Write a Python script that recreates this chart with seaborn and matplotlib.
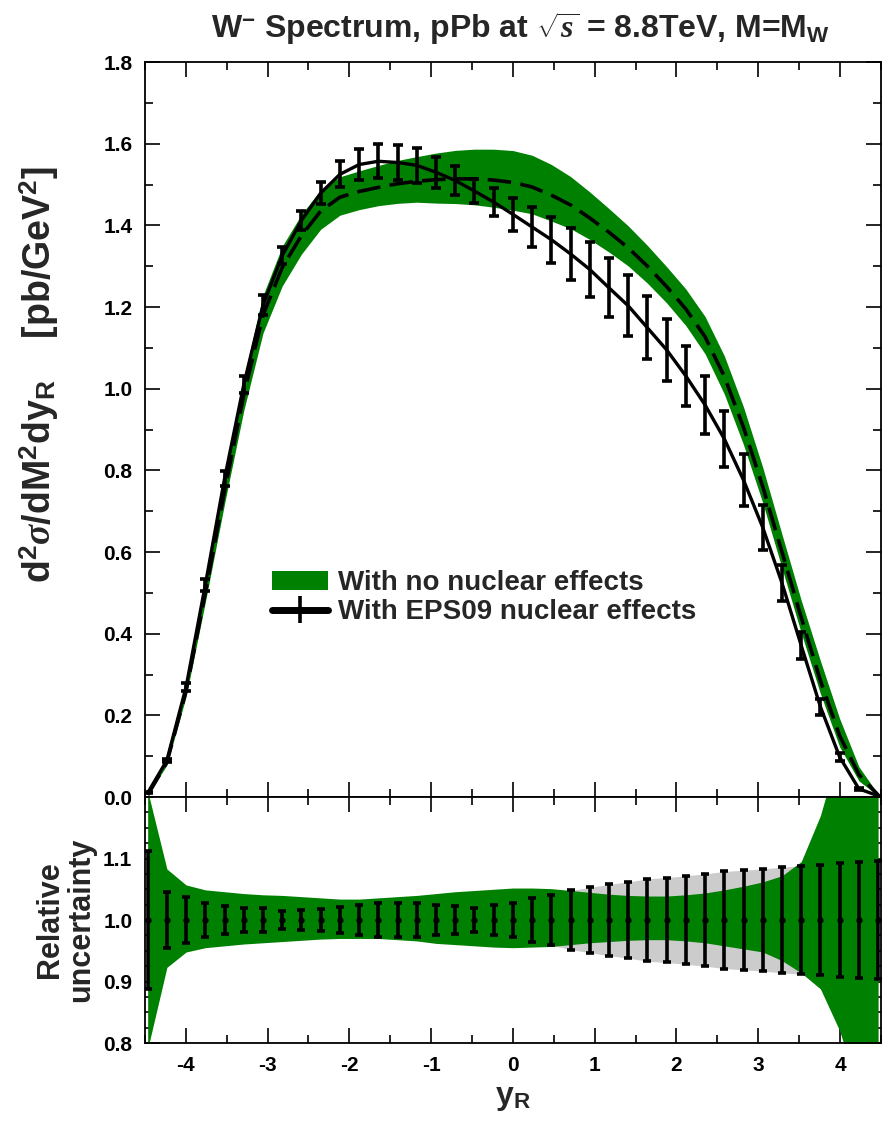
import numpy as np
import matplotlib
matplotlib.use("Agg")
import matplotlib.pyplot as plt
import seaborn as sns
from matplotlib.patches import Patch
from matplotlib.ticker import MultipleLocator

# ---------------- data ----------------
y_r = [-4.465, -4.230, -3.995, -3.760, -3.525, -3.290, -3.055, -2.820, -2.585,
       -2.350, -2.115, -1.880, -1.645, -1.410, -1.175, -0.940, -0.705, -0.470,
       -0.235, 0.000, 0.235, 0.470, 0.705, 0.940, 1.175, 1.410, 1.645, 1.880,
       2.115, 2.350, 2.585, 2.820, 3.055, 3.290, 3.525, 3.760, 3.995, 4.230, 4.465]

# EPS09 (with nuclear effects) central values  [pb/GeV^2]
eps09 = [0.010, 0.090, 0.270, 0.520, 0.780, 1.010, 1.205, 1.326, 1.412, 1.479,
         1.525, 1.549, 1.557, 1.554, 1.547, 1.530, 1.510, 1.484, 1.457, 1.427,
         1.396, 1.365, 1.330, 1.292, 1.247, 1.203, 1.149, 1.095, 1.031, 0.960,
         0.877, 0.776, 0.660, 0.524, 0.371, 0.221, 0.098, 0.020, 0.003]

# EPS09 relative uncertainty (half width)
eps09_rel = [0.112, 0.045, 0.037, 0.028, 0.023, 0.020, 0.020, 0.015, 0.017, 0.018,
             0.021, 0.024, 0.027, 0.028, 0.028, 0.025, 0.023, 0.020, 0.024, 0.028,
             0.035, 0.041, 0.048, 0.053, 0.058, 0.062, 0.067, 0.069, 0.072, 0.075,
             0.079, 0.081, 0.083, 0.086, 0.088, 0.090, 0.092, 0.095, 0.096]

# no nuclear effects: central values
nonuc = [0.005, 0.085, 0.260, 0.500, 0.750, 0.985, 1.180, 1.297, 1.375, 1.435,
         1.469, 1.483, 1.493, 1.502, 1.508, 1.512, 1.514, 1.514, 1.511, 1.505,
         1.494, 1.474, 1.450, 1.418, 1.383, 1.345, 1.300, 1.250, 1.195, 1.127,
         1.030, 0.905, 0.760, 0.600, 0.440, 0.285, 0.150, 0.055, 0.005]

# no nuclear effects: relative band (upper / lower)
nonuc_rel_hi = [1.210, 1.083, 1.057, 1.049, 1.046, 1.043, 1.041, 1.040, 1.038, 1.036,
                1.034, 1.034, 1.036, 1.038, 1.040, 1.043, 1.046, 1.048, 1.050, 1.052,
                1.052, 1.051, 1.048, 1.045, 1.042, 1.040, 1.039, 1.039, 1.041, 1.044,
                1.049, 1.055, 1.062, 1.072, 1.095, 1.170, 1.280, 1.350, 1.400]
nonuc_rel_lo = [0.790, 0.923, 0.948, 0.955, 0.958, 0.961, 0.963, 0.965, 0.967, 0.969,
                0.970, 0.970, 0.970, 0.968, 0.966, 0.962, 0.960, 0.958, 0.956, 0.955,
                0.956, 0.957, 0.960, 0.963, 0.965, 0.967, 0.968, 0.968, 0.966, 0.963,
                0.958, 0.953, 0.948, 0.934, 0.914, 0.888, 0.820, 0.720, 0.600]

x_ticks = [-4, -3, -2, -1, 0, 1, 2, 3, 4]
top_yticks = [0.0, 0.2, 0.4, 0.6, 0.8, 1.0, 1.2, 1.4, 1.6, 1.8]
bot_yticks = [0.8, 0.9, 1.0, 1.1]

labels_legend = ["With no nuclear effects", "With EPS09 nuclear effects"]

# ---------------- style ----------------
sns.set_theme(style="ticks")
plt.rcParams['font.family'] = ['Liberation Sans', 'DejaVu Sans']
plt.rcParams['font.weight'] = 'bold'
plt.rcParams['mathtext.fontset'] = 'custom'
plt.rcParams['mathtext.rm'] = 'Liberation Sans:bold'
plt.rcParams['mathtext.bf'] = 'Liberation Sans:bold'
plt.rcParams['mathtext.sf'] = 'Liberation Sans:bold'
plt.rcParams['mathtext.it'] = 'Liberation Serif:italic'

GREEN = '#008000'
GREY = '#cccccc'

x = np.array(y_r)
eps = np.array(eps09)
erel = np.array(eps09_rel)
cen = np.array(nonuc)
rhi = np.array(nonuc_rel_hi)
rlo = np.array(nonuc_rel_lo)

fig = plt.figure(figsize=(8.83, 11.22), dpi=100)
gs = fig.add_gridspec(2, 1, height_ratios=[735, 246], hspace=0,
                      left=0.164, right=0.9977, top=0.9447, bottom=0.0704)
ax1 = fig.add_subplot(gs[0])
ax2 = fig.add_subplot(gs[1], sharex=ax1)

# ---- top panel ----
ax1.fill_between(x, cen * rlo, cen * rhi, color=GREEN, lw=0, zorder=1)
sns.lineplot(x=x, y=cen, ax=ax1, color='black', lw=2.6, zorder=2,
             estimator=None, sort=False)
ax1.lines[-1].set_dashes([6.5, 2.6])
sns.lineplot(x=x, y=eps, ax=ax1, color='black', lw=2.4, zorder=3,
             estimator=None, sort=False)
ax1.errorbar(x, eps, yerr=eps * erel, fmt='none', ecolor='black',
             elinewidth=2.6, capsize=3.8, capthick=2.6, zorder=4)

ax1.set_xlim(-4.5, 4.5)
ax1.set_ylim(0.0, 1.8)
ax1.set_yticks(top_yticks)
ax1.yaxis.set_minor_locator(MultipleLocator(0.1))
ax1.set_yticklabels([f"{v:.1f}" for v in top_yticks])
ax1.tick_params(axis='x', labelbottom=False)

# legend
h_green = Patch(facecolor=GREEN, edgecolor='none')
h_err = ax1.errorbar([], [], yerr=[], fmt='-', color='black', lw=5,
                     elinewidth=2.6, capsize=5, capthick=2.6)
ax1.legend([h_green, h_err], labels_legend, loc='upper left',
           bbox_to_anchor=(0.158, 0.324), frameon=False,
           prop={'weight': 'bold', 'size': 20}, handlelength=2.0,
           handletextpad=0.35, labelspacing=0.12, borderaxespad=0)

ax1.set_ylabel(r"d$^\mathrm{2}\sigma$/dM$^\mathrm{2}$dy$_\mathrm{R}$    [pb/GeV$^\mathrm{2}$]",
               fontsize=27, fontweight='bold')
ax1.yaxis.set_label_coords(-0.114, 0.575)

# ---- bottom panel ----
ax2.fill_between(x, 1 - erel, 1 + erel, color=GREY, lw=0, zorder=1)
ax2.fill_between(x, rlo, rhi, color=GREEN, lw=0, zorder=2)
ax2.errorbar(x, np.ones_like(x), yerr=erel, fmt='o', color='black', ms=3.5,
             ecolor='black', elinewidth=2.6, capsize=2.8, capthick=2.6, zorder=4)
ax2.set_ylim(0.8, 1.2)
ax2.set_yticks(bot_yticks)
ax2.set_yticklabels([f"{v:.1f}" for v in bot_yticks])
ax2.yaxis.set_minor_locator(MultipleLocator(0.025))
ax2.set_xticks(x_ticks)
ax2.set_xticklabels([str(v) for v in x_ticks])
ax2.xaxis.set_minor_locator(MultipleLocator(0.5))
ax2.set_ylabel("Relative\nuncertainty", fontsize=22, fontweight='bold',
               linespacing=1.05)
ax2.yaxis.set_label_coords(-0.066, 0.5)
ax2.set_xlabel(r"y$_\mathrm{R}$", fontsize=23, fontweight='bold', labelpad=6)

for ax in (ax1, ax2):
    ax.tick_params(which='both', direction='in', top=True, right=True,
                   colors='black')
    ax.tick_params(which='major', length=11, width=1.2, labelsize=15, pad=9)
    ax.tick_params(which='minor', length=6, width=1.2)
    for s in ax.spines.values():
        s.set_color('black')
        s.set_linewidth(1.3)
    for lab in ax.get_xticklabels() + ax.get_yticklabels():
        lab.set_fontweight('bold')

fig.text(0.589, 0.975,
         r"W$^{\mathrm{-}}$ Spectrum, pPb at $\sqrt{s}$ = 8.8TeV, M=M$_\mathrm{W}$",
         ha='center', va='center', fontsize=23, fontweight='bold')

fig.savefig("out.png", dpi=100)
